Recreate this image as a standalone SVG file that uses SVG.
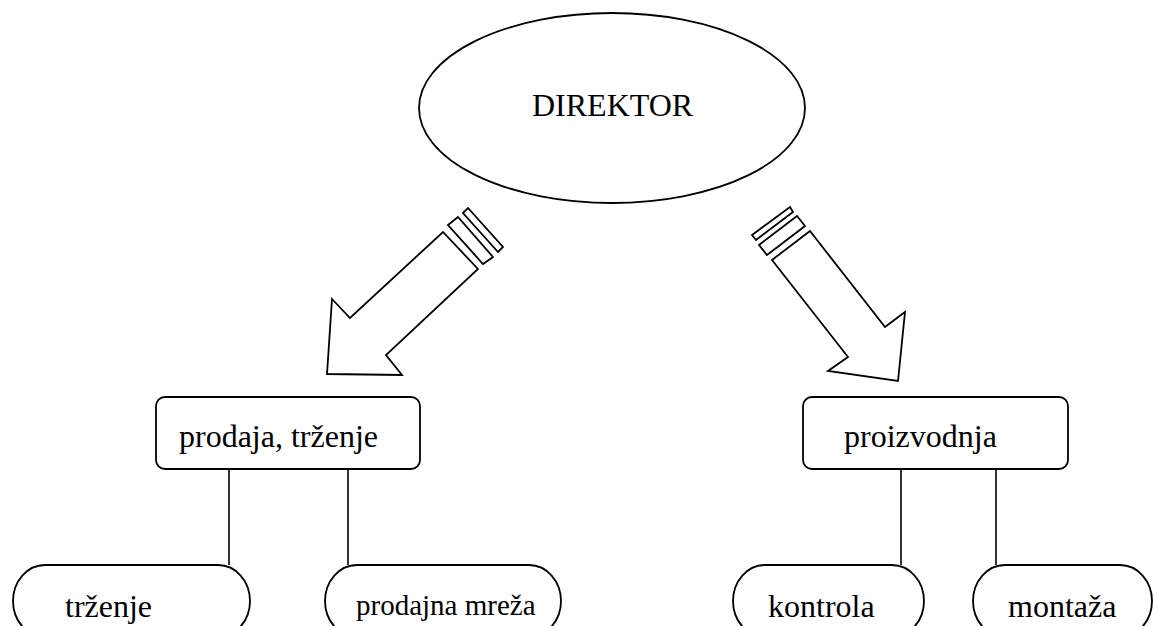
<svg xmlns="http://www.w3.org/2000/svg" width="1154" height="626" viewBox="0 0 1154 626">
<style>
.s{fill:#fff;stroke:#000;stroke-width:1.8;stroke-linejoin:miter}
.l{stroke:#000;stroke-width:1.6;fill:none}
.t{font-family:"Liberation Serif","Times New Roman",serif;font-size:32px;fill:#000}
</style>
<rect width="1154" height="626" fill="#fff"/>
<g id="connectors">
<g id="arrow-left">
<polygon class="s" points="478,269 443,232 350,318 332,299 327,374 402,375 386,355"/>
<polygon class="s" points="448,225 458,217 493,257 483,264"/>
<polygon class="s" points="463,213 468,208 503,247 498,252"/>
</g>
<g id="arrow-right">
<polygon class="s" points="772,260 810,231 885,327 905,312 898,381 828,371 848,357"/>
<polygon class="s" points="759,245 797,216 805,226 767,255"/>
<polygon class="s" points="752,235 790,207 793,212 756,240"/>
</g>
<line class="l" x1="229" y1="469" x2="229" y2="565"/>
<line class="l" x1="348" y1="469" x2="348" y2="565"/>
<line class="l" x1="901" y1="469" x2="901" y2="565"/>
<line class="l" x1="996" y1="469" x2="996" y2="565"/>
</g>
<g id="direktor">
<ellipse class="s" cx="612" cy="108" rx="193" ry="95"/>
<text class="t" x="532" y="116">DIREKTOR</text>
</g>
<g id="prodaja">
<rect class="s" x="156" y="397" width="264" height="72" rx="9"/>
<text class="t" x="179" y="447">prodaja, trženje</text>
</g>
<g id="proizvodnja">
<rect class="s" x="803" y="397" width="265" height="72" rx="9"/>
<text class="t" x="844" y="447">proizvodnja</text>
</g>
<g id="trzenje">
<rect class="s" x="13" y="565" width="237" height="72" rx="32" ry="36"/>
<text class="t" x="65" y="617">trženje</text>
</g>
<g id="prodajna-mreza">
<rect class="s" x="325" y="565" width="236" height="72" rx="32" ry="36"/>
<text class="t" x="356" y="615" style="font-size:29px">prodajna mreža</text>
</g>
<g id="kontrola">
<rect class="s" x="733" y="565" width="191" height="72" rx="32" ry="36"/>
<text class="t" x="768" y="617">kontrola</text>
</g>
<g id="montaza">
<rect class="s" x="973" y="565" width="179" height="72" rx="32" ry="36"/>
<text class="t" x="1008" y="617">montaža</text>
</g>
</svg>
